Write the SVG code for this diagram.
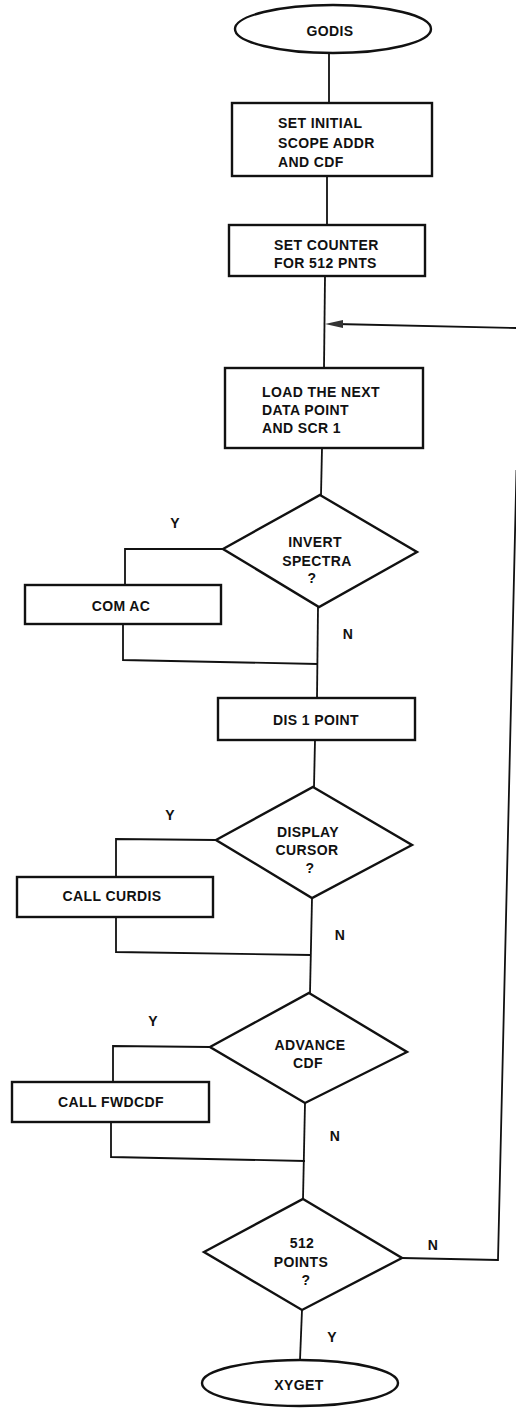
<svg xmlns="http://www.w3.org/2000/svg" width="516" height="1408" viewBox="0 0 516 1408">
<style>
.s{fill:#fff;stroke:#111;stroke-width:2.4}
.c{fill:none;stroke:#111;stroke-width:1.8}
text{font-family:"Liberation Sans",Arial,sans-serif;font-weight:bold;font-size:14px;letter-spacing:0.4px;fill:#111}
.m{text-anchor:middle}
</style>
<rect width="516" height="1408" fill="#fff"/>
<g id="connectors">
<line class="c" x1="329" y1="53" x2="329" y2="103"/>
<line class="c" x1="327" y1="176" x2="327" y2="225"/>
<line class="c" x1="325" y1="276" x2="324" y2="368"/>
<polyline class="c" points="516.5,328 336,324"/>
<path d="M343,320 L325,324 L343,328 Z" fill="#333"/>
<line class="c" x1="322" y1="448" x2="321" y2="495"/>
<polyline class="c" points="223,549 125,549 125,585"/>
<polyline class="c" points="123,624 123,660 318,664"/>
<line class="c" x1="318" y1="607" x2="317" y2="698"/>
<line class="c" x1="315" y1="740" x2="314" y2="787"/>
<polyline class="c" points="216,840 116,839 116,877"/>
<polyline class="c" points="116,917 116,952 311,955"/>
<line class="c" x1="312" y1="898" x2="310" y2="993"/>
<polyline class="c" points="210,1047 113,1046 113,1082"/>
<polyline class="c" points="111,1122 111,1157 305,1161"/>
<line class="c" x1="305" y1="1103" x2="303" y2="1199"/>
<polyline class="c" points="402,1258 498,1260 516.5,470"/>
<line class="c" x1="302" y1="1310" x2="300" y2="1360"/>
</g>
<g id="godis">
<ellipse class="s" cx="333" cy="29" rx="98" ry="24"/>
<text class="m" x="330" y="36">GODIS</text>
</g>
<g id="set-initial">
<rect class="s" x="232" y="103" width="200" height="73"/>
<text x="278" y="128">SET INITIAL</text>
<text x="278" y="148">SCOPE ADDR</text>
<text x="278" y="167">AND CDF</text>
</g>
<g id="set-counter">
<rect class="s" x="229" y="225" width="196" height="51"/>
<text x="274" y="250">SET COUNTER</text>
<text x="274" y="268">FOR 512 PNTS</text>
</g>
<g id="load-next">
<rect class="s" x="225" y="368" width="198" height="80"/>
<text x="262" y="397">LOAD THE NEXT</text>
<text x="262" y="415">DATA POINT</text>
<text x="262" y="433">AND SCR 1</text>
</g>
<g id="invert-spectra">
<polygon class="s" points="320,495 417,552 319,607 223,549"/>
<text class="m" x="315" y="547">INVERT</text>
<text class="m" x="317" y="566">SPECTRA</text>
<text class="m" x="312" y="583">?</text>
<text class="m" x="175" y="528">Y</text>
<text class="m" x="348" y="639">N</text>
</g>
<g id="com-ac">
<rect class="s" x="25" y="585" width="196" height="39"/>
<text class="m" x="121" y="611">COM AC</text>
</g>
<g id="dis-point">
<rect class="s" x="218" y="698" width="197" height="42"/>
<text class="m" x="316" y="725">DIS 1 POINT</text>
</g>
<g id="display-cursor">
<polygon class="s" points="313,787 412,845 312,898 216,840"/>
<text class="m" x="308" y="837">DISPLAY</text>
<text class="m" x="307" y="855">CURSOR</text>
<text class="m" x="310" y="873">?</text>
<text class="m" x="170" y="820">Y</text>
<text class="m" x="340" y="940">N</text>
</g>
<g id="call-curdis">
<rect class="s" x="17" y="877" width="196" height="40"/>
<text class="m" x="112" y="901">CALL CURDIS</text>
</g>
<g id="advance-cdf">
<polygon class="s" points="309,993 407,1052 305,1103 210,1047"/>
<text class="m" x="310" y="1050">ADVANCE</text>
<text class="m" x="308" y="1068">CDF</text>
<text class="m" x="153" y="1026">Y</text>
<text class="m" x="335" y="1141">N</text>
</g>
<g id="call-fwdcdf">
<rect class="s" x="12" y="1082" width="197" height="40"/>
<text class="m" x="111" y="1107">CALL FWDCDF</text>
</g>
<g id="points-512">
<polygon class="s" points="303,1199 402,1258 302,1310 204,1252"/>
<text class="m" x="302" y="1248">512</text>
<text class="m" x="301" y="1267">POINTS</text>
<text class="m" x="306" y="1285">?</text>
<text class="m" x="433" y="1250">N</text>
<text class="m" x="332" y="1342">Y</text>
</g>
<g id="xyget">
<ellipse class="s" cx="300" cy="1383" rx="98" ry="23"/>
<text class="m" x="299" y="1390">XYGET</text>
</g>
</svg>
